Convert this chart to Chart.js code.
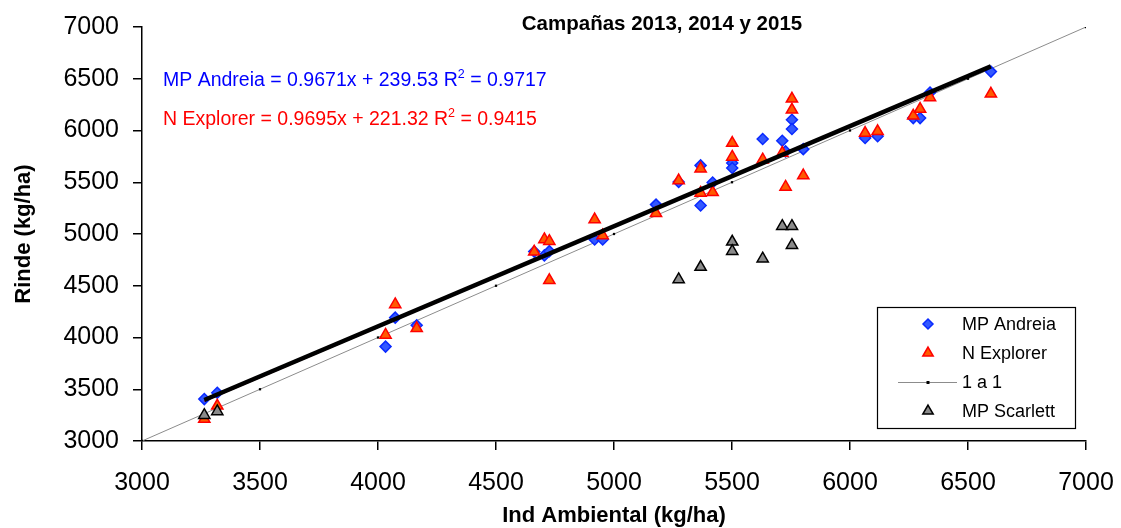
<!DOCTYPE html>
<html>
<head>
<meta charset="utf-8">
<script src="https://cdn.jsdelivr.net/npm/chart.js@4.4.0/dist/chart.umd.min.js"></script>
<style>
  html, body { margin: 0; padding: 0; background: #fff; }
  #wrap { width: 1121px; height: 528px; position: relative; }
</style>
</head>
<body>
<div id="wrap"><canvas id="c" width="1121" height="528"></canvas></div>
<script>
// ---- data ----
const andreiaX = [3264,3319,4032,4073,4164,4662,4705,4726,4918,4952,5178,5274,5367,5367,5418,5501,5501,5630,5713,5727,5754,5754,5802,6064,6117,6268,6297,6339,6597];
const andreiaY = [3405,3466,3912,4192,4118,4830,4793,4834,4947,4947,5284,5503,5663,5275,5497,5686,5638,5918,5901,5798,6104,6014,5820,5927,5944,6120,6120,6367,6569];

const explorerX = [3264,3319,4032,4073,4164,4662,4705,4726,4726,4918,4952,5178,5274,5367,5367,5418,5501,5501,5630,5713,5727,5754,5754,5802,6064,6117,6268,6297,6339,6597];
const explorerY = [3212,3340,4025,4320,4089,4828,4947,4931,4552,5140,4985,5200,5516,5631,5397,5403,5879,5745,5718,5783,5455,6306,6200,5565,5975,5992,6142,6207,6319,6354];

const scarlettX = [3264,3319,5274,5367,5501,5501,5630,5713,5754,5754];
const scarlettY = [3250,3286,4561,4680,4925,4834,4761,5075,5075,4892];

const oneToOneX = [3000,3500,4000,4500,5000,5500,6000,6500,7000];
const oneToOneY = [3000,3500,4000,4500,5000,5500,6000,6500,7000];

// regression equations shown on the chart
const andreiaFit = { slope: 0.9671, intercept: 239.53, r2: '0.9717', xMin: 3264, xMax: 6597 };
const explorerFit = { slope: 0.9695, intercept: 221.32, r2: '0.9415', xMin: 3264, xMax: 6597 };

const xTicks = [3000,3500,4000,4500,5000,5500,6000,6500,7000];
const yTicks = [3000,3500,4000,4500,5000,5500,6000,6500,7000];

const titleText = 'Campañas 2013, 2014 y 2015';
const xTitle = 'Ind Ambiental (kg/ha)';
const yTitle = 'Rinde (kg/ha)';

// ---- build ----
const pts = (xs, ys) => xs.map((x, i) => ({ x: x, y: ys[i] }));
const fitPts = f => [f.xMin, f.xMax].map(x => ({ x: x, y: f.slope * x + f.intercept }));

const FONT = "'Liberation Sans', Arial, sans-serif";

const datasets = [
  { label: 'Andreia tendencia', data: fitPts(andreiaFit), showLine: true, borderColor: '#000', borderWidth: 4.5,
    pointRadius: 0, order: 0 },
  { label: 'Explorer tendencia', data: fitPts(explorerFit), showLine: true, borderColor: '#c00000', borderWidth: 1.5,
    pointRadius: 0, order: 0.5 },
  { label: 'MP Scarlett', data: pts(scarlettX, scarlettY), pointStyle: 'triangle', pointRadius: 6.5,
    backgroundColor: '#8a8a8a', borderColor: '#000', borderWidth: 1.5, order: 1 },
  { label: 'N Explorer', data: pts(explorerX, explorerY), pointStyle: 'triangle', pointRadius: 6.5,
    backgroundColor: '#ff5a00', borderColor: '#ff0000', borderWidth: 1.5, order: 2 },
  { label: 'MP Andreia', data: pts(andreiaX, andreiaY), pointStyle: 'rectRot', pointRadius: 5.5,
    backgroundColor: '#3358ff', borderColor: '#0a2aff', borderWidth: 1.5, order: 3 },
  { label: '1 a 1', data: pts(oneToOneX, oneToOneY), showLine: true, borderColor: '#8c8c8c', borderWidth: 1,
    pointStyle: 'rect', pointRadius: 1.6, backgroundColor: '#000', pointBorderColor: '#000', pointBorderWidth: 0, order: 4 }
];

const legendOrder = ['MP Andreia', 'N Explorer', '1 a 1', 'MP Scarlett'];

const overlay = {
  id: 'overlay',
  afterDraw(chart) {
    const ctx = chart.ctx;
    ctx.save();
    // title
    ctx.fillStyle = '#000';
    ctx.font = 'bold 20.5px ' + FONT;
    ctx.textAlign = 'center';
    ctx.textBaseline = 'alphabetic';
    ctx.fillText(titleText, 662, 30);

    // equations
    const eq = (name, f, color, y) => {
      ctx.fillStyle = color;
      ctx.textAlign = 'left';
      ctx.font = '19.5px ' + FONT;
      let x = 163;
      const a = name + ' = ' + f.slope.toFixed(4) + 'x + ' + f.intercept.toFixed(2) + ' R';
      ctx.fillText(a, x, y);
      x += ctx.measureText(a).width;
      ctx.font = '12.5px ' + FONT;
      ctx.fillText('2', x, y - 8);
      x += ctx.measureText('2').width;
      ctx.font = '19.5px ' + FONT;
      ctx.fillText(' = ' + f.r2, x, y);
    };
    eq('MP Andreia', andreiaFit, '#0000ff', 86);
    eq('N Explorer', explorerFit, '#ff0000', 125);

    // legend box
    ctx.strokeStyle = '#000';
    ctx.lineWidth = 1.2;
    ctx.strokeRect(877.5, 307.5, 198, 121);
    const rows = [324, 353, 382, 411];
    legendOrder.forEach((lab, i) => {
      const ds = chart.data.datasets.find(d => d.label === lab);
      const cy = rows[i];
      const cx = 928;
      if (lab === '1 a 1') {
        ctx.strokeStyle = ds.borderColor;
        ctx.lineWidth = 1;
        ctx.beginPath(); ctx.moveTo(898, cy + 0.5); ctx.lineTo(957, cy + 0.5); ctx.stroke();
        ctx.fillStyle = '#000';
        ctx.fillRect(cx - 1.5, cy - 1, 3, 3);
      } else {
        ctx.fillStyle = ds.backgroundColor;
        ctx.strokeStyle = ds.borderColor;
        ctx.lineWidth = 1.5;
        Chart.helpers.drawPoint(ctx, { pointStyle: ds.pointStyle, radius: ds.pointStyle === 'triangle' ? 6 : 5, rotation: 0, borderWidth: 1.5 }, cx, cy);
      }
      ctx.fillStyle = '#000';
      ctx.font = '18px ' + FONT;
      ctx.textAlign = 'left';
      ctx.textBaseline = 'middle';
      ctx.fillText(lab, 962, cy + 1);
    });
    ctx.restore();
  }
};

new Chart(document.getElementById('c'), {
  type: 'scatter',
  data: { datasets: datasets },
  plugins: [overlay],
  options: {
    responsive: false,
    animation: false,
    layout: { padding: { left: 0, right: 35, top: 27, bottom: 0 } },
    plugins: { legend: { display: false }, tooltip: { enabled: false }, title: { display: false } },
    scales: {
      x: {
        type: 'linear', min: 3000, max: 7000,
        afterBuildTicks: s => { s.ticks = xTicks.map(v => ({ value: v })); },
        afterFit: s => { s.height = 528 - 441; s.paddingLeft = 0; s.paddingRight = 0; },
        ticks: { color: '#000', font: { family: FONT, size: 25 }, padding: 18, maxRotation: 0,
                 callback: v => String(v) },
        grid: { drawOnChartArea: false, drawTicks: true, tickLength: 9, color: '#000', lineWidth: 1.5 },
        border: { display: true, color: '#000', width: 1.5 },
        title: { display: true, text: xTitle, color: '#000', font: { family: FONT, size: 22, weight: 'bold' },
                 padding: { top: 0, bottom: -1 } }
      },
      y: {
        type: 'linear', min: 3000, max: 7000,
        afterBuildTicks: s => { s.ticks = yTicks.map(v => ({ value: v })); },
        afterFit: s => { s.width = 142; s.paddingTop = 0; s.paddingBottom = 0; },
        ticks: { color: '#000', font: { family: FONT, size: 25 }, padding: 14,
                 callback: v => String(v) },
        grid: { drawOnChartArea: false, drawTicks: true, tickLength: 9, color: '#000', lineWidth: 1.5 },
        border: { display: true, color: '#000', width: 1.5 },
        title: { display: true, text: yTitle, color: '#000', font: { family: FONT, size: 22, weight: 'bold' },
                 padding: { top: 11, bottom: 0 } }
      }
    }
  }
});
</script>
</body>
</html>
